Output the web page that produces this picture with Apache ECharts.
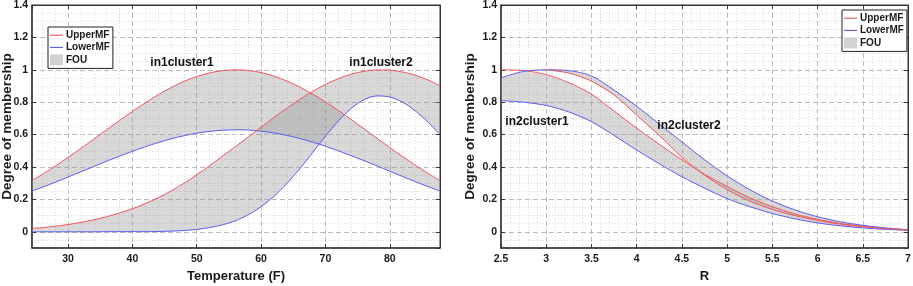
<!DOCTYPE html>
<html>
<head>
<meta charset="utf-8">
<script src="https://cdn.jsdelivr.net/npm/echarts@6/dist/echarts.min.js"></script>
<style>
html,body{margin:0;padding:0;background:#fff;}
#chart{width:913px;height:286px;}
</style>
</head>
<body>
<div id="chart"></div>
<script>
// left panel, x = Temperature (F)
var tempX    = [24.4, 26, 28, 30, 32, 34, 36, 38, 40, 42, 44, 46, 48, 50, 52, 54, 56, 58, 60, 62, 64, 66, 68, 70, 72, 74, 76, 78, 80, 82, 84, 86, 87.8];
var c1Upper  = [0.317, 0.354, 0.405, 0.459, 0.514, 0.572, 0.630, 0.687, 0.743, 0.796, 0.846, 0.890, 0.928, 0.958, 0.981, 0.995, 1.000, 0.996, 0.983, 0.961, 0.931, 0.894, 0.850, 0.802, 0.749, 0.693, 0.636, 0.578, 0.520, 0.464, 0.410, 0.359, 0.317];
var c1Lower  = [0.252, 0.275, 0.306, 0.338, 0.371, 0.403, 0.436, 0.467, 0.497, 0.525, 0.551, 0.574, 0.593, 0.609, 0.620, 0.627, 0.630, 0.628, 0.621, 0.610, 0.595, 0.576, 0.554, 0.528, 0.500, 0.470, 0.439, 0.407, 0.374, 0.341, 0.309, 0.278, 0.252];
var c2Upper  = [0.021, 0.026, 0.034, 0.045, 0.058, 0.074, 0.093, 0.116, 0.142, 0.174, 0.210, 0.252, 0.299, 0.352, 0.408, 0.467, 0.525, 0.585, 0.646, 0.706, 0.763, 0.817, 0.867, 0.910, 0.945, 0.973, 0.991, 0.999, 0.998, 0.986, 0.966, 0.936, 0.902];
var c2Lower  = [0, 0, 0, 0, 0, 0, 0.001, 0.001, 0.001, 0.001, 0.002, 0.004, 0.008, 0.015, 0.026, 0.043, 0.068, 0.105, 0.155, 0.219, 0.298, 0.389, 0.489, 0.590, 0.684, 0.762, 0.816, 0.839, 0.832, 0.800, 0.745, 0.675, 0.600];

// right panel, x = R
var rX       = [2.5, 2.75, 3, 3.25, 3.5, 3.75, 4, 4.25, 4.5, 4.75, 5, 5.25, 5.5, 5.75, 6, 6.25, 6.5, 6.75, 7];
var r1Upper  = [1.0, 0.995, 0.97, 0.92, 0.85, 0.745, 0.64, 0.54, 0.445, 0.355, 0.28, 0.21, 0.155, 0.11, 0.077, 0.052, 0.034, 0.021, 0.013];
var r1Lower  = [0.81, 0.80, 0.78, 0.74, 0.68, 0.595, 0.505, 0.42, 0.34, 0.27, 0.205, 0.155, 0.113, 0.08, 0.055, 0.037, 0.024, 0.015, 0.009];
var r2Upper  = [0.95, 0.99, 1.0, 0.995, 0.962, 0.875, 0.775, 0.665, 0.555, 0.445, 0.345, 0.26, 0.19, 0.135, 0.093, 0.062, 0.04, 0.024, 0.012];
var r2Lower  = [null, null, 1.0, 0.98, 0.93, 0.845, 0.72, 0.595, 0.46, 0.35, 0.26, 0.19, 0.138, 0.1, 0.07, 0.047, 0.031, 0.02, 0.011];

var legendNames = ['UpperMF', 'LowerMF', 'FOU'];

var FONT = '"Liberation Sans", Arial, sans-serif';
var RED = '#f2555d';
var BLUE = '#5b5bf0';
// thin line legend icon (corner moves keep the box size)
var LINE_ICON = 'path://M0,0 M0,5 L14,5 L14,6.2 L0,6.2 Z M14,11';

function pairs(xs, ys) {
    return xs.map(function (x, i) { return [x, ys[i]]; });
}

function lineSeries(name, xs, ys, color, axis) {
    return {
        type: 'line', name: name, xAxisIndex: axis, yAxisIndex: axis,
        data: pairs(xs, ys), symbol: 'none', showSymbol: false,
        smooth: 0.3, connectNulls: false,
        lineStyle: { color: color, width: 1 }, itemStyle: { color: color },
        z: 4, silent: true
    };
}

// FOU band: polygon between upper and lower curve
function fouSeries(xs, top, bottom, axis) {
    return {
        type: 'custom', name: 'FOU', xAxisIndex: axis, yAxisIndex: axis,
        coordinateSystem: 'cartesian2d', data: [[xs[0], top[0]]],
        itemStyle: { color: '#d2d2d2' }, silent: true, z: 2,
        renderItem: function (params, api) {
            var pts = [];
            for (var i = 0; i < xs.length; i++) pts.push(api.coord([xs[i], top[i]]));
            for (var j = xs.length - 1; j >= 0; j--) pts.push(api.coord([xs[j], bottom[j]]));
            return { type: 'polygon', shape: { points: pts }, style: { fill: 'rgba(150,150,150,0.37)' } };
        }
    };
}

var r1Top = r1Upper.map(function (v, i) { return Math.min(v, r2Upper[i]); });
var r2Bottom = r2Lower.map(function (v, i) { return v == null ? r2Upper[i] : v; });

var major = { show: true, lineStyle: { color: '#bcbcbc', type: [5, 3], width: 1 } };
var minor = { show: true, lineStyle: { color: '#dadada', type: [1, 2], width: 1 } };
var labelStyle = { color: '#1a1a1a', fontFamily: FONT, fontWeight: 'bold', fontSize: 10.5 };
var nameStyle = { color: '#1a1a1a', fontFamily: FONT, fontWeight: 'bold', fontSize: 13 };

function xMain(grid, min, max, split, name, hideEnds) {
    return {
        type: 'value', gridIndex: grid, min: min, max: max, splitNumber: split,
        name: name, nameLocation: 'middle', nameGap: 22, nameTextStyle: nameStyle,
        axisLine: { show: true, onZero: false, lineStyle: { color: '#333', width: 1.5 } },
        axisTick: { show: true, inside: true, length: 4, lineStyle: { color: '#333' } },
        axisLabel: Object.assign({ margin: 6, showMinLabel: !hideEnds, showMaxLabel: !hideEnds }, labelStyle),
        splitLine: major, minorTick: { show: false, splitNumber: 5 }, minorSplitLine: minor
    };
}
function xTop(grid, min, max, split) {
    return {
        type: 'value', gridIndex: grid, position: 'top', min: min, max: max, splitNumber: split,
        axisLine: { show: true, onZero: false, lineStyle: { color: '#333', width: 1 } },
        axisTick: { show: true, inside: true, length: 4, lineStyle: { color: '#333' } },
        axisLabel: { show: false }, splitLine: { show: false }
    };
}
function yMain(grid, gap) {
    return {
        type: 'value', gridIndex: grid, min: -0.1, max: 1.4, splitNumber: 7,
        name: 'Degree of membership', nameLocation: 'middle', nameGap: gap, nameMoveOverlap: false,
        nameTextStyle: Object.assign({}, nameStyle, { fontSize: 13.5 }),
        axisLine: { show: true, onZero: false, lineStyle: { color: '#333', width: 1.5 } },
        axisTick: { show: true, inside: true, length: 4, lineStyle: { color: '#333' } },
        axisLabel: Object.assign({ margin: 4, showMinLabel: false }, labelStyle),
        splitLine: major, minorTick: { show: false, splitNumber: 4 }, minorSplitLine: minor
    };
}
function yRight(grid) {
    return {
        type: 'value', gridIndex: grid, position: 'right', min: -0.1, max: 1.4, splitNumber: 7,
        axisLine: { show: true, onZero: false, lineStyle: { color: '#333', width: 1 } },
        axisTick: { show: true, inside: true, length: 4, lineStyle: { color: '#333' } },
        axisLabel: { show: false }, splitLine: { show: false }
    };
}

function legendCfg(left, top) {
    return {
        left: left, top: top, orient: 'vertical',
        data: [
            { name: legendNames[0], icon: LINE_ICON },
            { name: legendNames[1], icon: LINE_ICON },
            { name: legendNames[2], icon: 'rect', itemStyle: { color: '#d2d2d2' } }
        ],
        backgroundColor: '#fff', borderColor: '#222', borderWidth: 1, borderRadius: 0,
        padding: [3, 3, 3, 2], itemGap: 2, itemWidth: 13, itemHeight: 11,
        textStyle: { fontFamily: FONT, fontWeight: 'bold', fontSize: 10, color: '#1a1a1a', padding: [0, 0, 0, -2] }
    };
}

function tag(text, x, y) {
    return { type: 'text', x: x, y: y, z: 10,
        style: { text: text, font: 'bold 12px ' + FONT, fill: '#111', align: 'center', verticalAlign: 'middle' } };
}

var chart = echarts.init(document.getElementById('chart'));
chart.setOption({
    animation: false,
    backgroundColor: '#fff',
    grid: [
        { left: 32, top: 5, width: 408, height: 243, outerBoundsMode: 'none', containLabel: false,
          show: true, borderColor: '#333', borderWidth: 1, backgroundColor: 'transparent' },
        { left: 501, top: 5, width: 407, height: 243, outerBoundsMode: 'none', containLabel: false,
          show: true, borderColor: '#333', borderWidth: 1, backgroundColor: 'transparent' }
    ],
    xAxis: [
        xMain(0, 24.4, 87.8, 7, 'Temperature (F)', true),
        xTop(0, 24.4, 87.8, 7),
        xMain(1, 2.5, 7, 9, 'R', false),
        xTop(1, 2.5, 7, 9)
    ],
    yAxis: [yMain(0, 18), yRight(0), yMain(1, 24), yRight(1)],
    legend: [legendCfg(48, 27), legendCfg(842, 10)],
    graphic: [
        tag('in1cluster1', 182, 63),
        tag('in1cluster2', 381, 63),
        tag('in2cluster1', 537, 122),
        tag('in2cluster2', 689, 126)
    ],
    series: [
        fouSeries(tempX, c1Upper, c1Lower, 0),
        fouSeries(tempX, c2Upper, c2Lower, 0),
        lineSeries('UpperMF', tempX, c1Upper, RED, 0),
        lineSeries('LowerMF', tempX, c1Lower, BLUE, 0),
        lineSeries('UpperMF', tempX, c2Upper, RED, 0),
        lineSeries('LowerMF', tempX, c2Lower, BLUE, 0),
        fouSeries(rX, r1Top, r1Lower, 2),
        fouSeries(rX, r2Upper, r2Bottom, 2),
        lineSeries('UpperMF', rX, r1Upper, RED, 2),
        lineSeries('LowerMF', rX, r1Lower, BLUE, 2),
        lineSeries('LowerMF', rX, r2Upper, BLUE, 2),
        lineSeries('UpperMF', rX, r2Lower, RED, 2)
    ]
});
</script>
</body>
</html>
